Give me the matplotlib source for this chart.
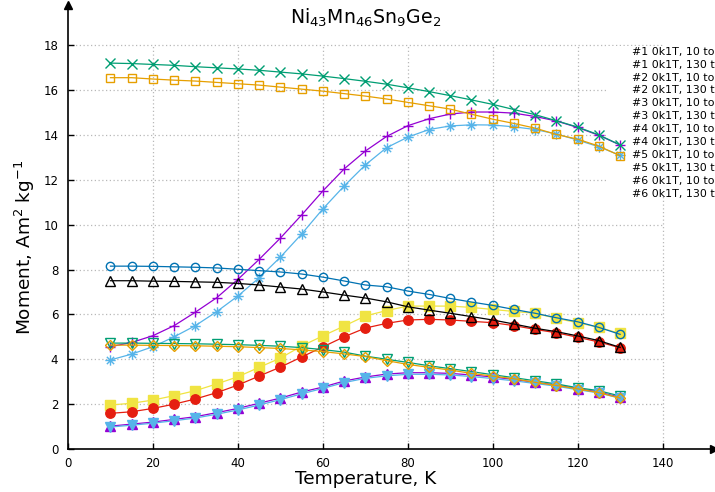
import numpy as np
import matplotlib
matplotlib.use("Agg")
import matplotlib.pyplot as plt
from matplotlib.path import Path
from matplotlib.patches import Rectangle

plt.rcParams["font.family"] = "DejaVu Sans"
plt.rcParams["mathtext.default"] = "regular"

# temperature sweep, K
temp = [10, 15, 20, 25, 30, 35, 40, 45, 50, 55, 60, 65, 70,
        75, 80, 85, 90, 95, 100, 105, 110, 115, 120, 125, 130]

# magnetic moment, Am^2 kg^-1 (warming "10 to 130" / cooling "130 to 10")
s1_up = [4.56, 4.75, 5.05, 5.50, 6.10, 6.74, 7.56, 8.45, 9.40, 10.43, 11.50, 12.48, 13.28,
         13.93, 14.41, 14.72, 14.93, 15.02, 15.02, 14.97, 14.82, 14.62, 14.33, 13.98, 13.55]
s1_dn = [17.20, 17.18, 17.14, 17.10, 17.04, 16.99, 16.94, 16.88, 16.80, 16.72, 16.62, 16.51, 16.39,
         16.26, 16.10, 15.93, 15.75, 15.56, 15.36, 15.13, 14.90, 14.63, 14.35, 14.00, 13.55]
s2_up = [3.97, 4.23, 4.56, 5.00, 5.50, 6.12, 6.82, 7.63, 8.55, 9.58, 10.70, 11.72, 12.66,
         13.43, 13.90, 14.24, 14.40, 14.45, 14.44, 14.36, 14.24, 14.04, 13.77, 13.47, 13.09]
s2_dn = [16.55, 16.55, 16.49, 16.44, 16.40, 16.34, 16.28, 16.22, 16.13, 16.04, 15.95, 15.84, 15.73,
         15.60, 15.45, 15.30, 15.15, 14.92, 14.70, 14.51, 14.30, 14.02, 13.81, 13.50, 13.07]
s3_up = [1.96, 2.04, 2.18, 2.38, 2.60, 2.90, 3.22, 3.64, 4.05, 4.59, 5.04, 5.48, 5.93,
         6.17, 6.37, 6.37, 6.37, 6.31, 6.22, 6.13, 6.05, 5.82, 5.63, 5.42, 5.15]
s3_dn = [8.15, 8.15, 8.14, 8.12, 8.10, 8.07, 8.01, 7.95, 7.89, 7.80, 7.66, 7.49, 7.31,
         7.23, 7.04, 6.89, 6.71, 6.55, 6.40, 6.22, 6.05, 5.85, 5.67, 5.42, 5.11]
s4_up = [1.59, 1.66, 1.81, 2.00, 2.23, 2.51, 2.85, 3.25, 3.65, 4.10, 4.55, 5.00, 5.39,
         5.60, 5.75, 5.78, 5.75, 5.69, 5.63, 5.50, 5.33, 5.18, 4.98, 4.77, 4.51]
s4_dn = [7.50, 7.50, 7.48, 7.47, 7.45, 7.43, 7.38, 7.31, 7.22, 7.13, 7.00, 6.86, 6.73,
         6.56, 6.34, 6.19, 6.05, 5.90, 5.75, 5.57, 5.38, 5.23, 5.04, 4.83, 4.53]
s5_up = [1.02, 1.11, 1.20, 1.32, 1.44, 1.62, 1.81, 2.04, 2.27, 2.54, 2.76, 3.03, 3.21,
         3.34, 3.40, 3.40, 3.37, 3.30, 3.21, 3.10, 2.97, 2.85, 2.69, 2.54, 2.30]
s5_dn = [4.72, 4.72, 4.71, 4.70, 4.69, 4.67, 4.65, 4.62, 4.58, 4.52, 4.43, 4.32, 4.14,
         4.00, 3.86, 3.71, 3.58, 3.45, 3.31, 3.18, 3.04, 2.90, 2.73, 2.60, 2.36]
s6_up = [0.98, 1.06, 1.15, 1.26, 1.38, 1.55, 1.74, 1.96, 2.20, 2.46, 2.70, 2.96, 3.15,
         3.26, 3.33, 3.33, 3.30, 3.23, 3.14, 3.04, 2.92, 2.80, 2.64, 2.50, 2.26]
s6_dn = [4.63, 4.63, 4.62, 4.61, 4.60, 4.58, 4.56, 4.52, 4.48, 4.42, 4.34, 4.24, 4.12,
         3.94, 3.77, 3.64, 3.52, 3.37, 3.25, 3.13, 2.97, 2.83, 2.68, 2.51, 2.27]

# key entries as far as they fit on the canvas
labels = ["#1 0k1T, 10 to", "#1 0k1T, 130 t",
          "#2 0k1T, 10 to", "#2 0k1T, 130 t",
          "#3 0k1T, 10 to", "#3 0k1T, 130 t",
          "#4 0k1T, 10 to", "#4 0k1T, 130 t",
          "#5 0k1T, 10 to", "#5 0k1T, 130 t",
          "#6 0k1T, 10 to", "#6 0k1T, 130 t"]
series = [s1_up, s1_dn, s2_up, s2_dn, s3_up, s3_dn,
          s4_up, s4_dn, s5_up, s5_dn, s6_up, s6_dn]

# gnuplot-like line types: colour, marker, filled?, marker size
asterisk = Path([(-1, 0), (1, 0), (0, -1), (0, 1),
                 (-0.7, -0.7), (0.7, 0.7), (-0.7, 0.7), (0.7, -0.7)],
                [Path.MOVETO, Path.LINETO] * 4)
styles = [
    ("#9400d3", "+", False, 7.5),
    ("#009e73", "x", False, 6.5),
    ("#56b4e9", asterisk, False, 7.5),
    ("#e69f00", "s", False, 6.3),
    ("#f0e442", "s", True, 6.5),
    ("#0072b2", "o", False, 6.0),
    ("#e51e10", "o", True, 6.8),
    ("#000000", "^", False, 6.5),
    ("#9400d3", "^", True, 6.5),
    ("#009e73", "v", False, 6.5),
    ("#56b4e9", "v", True, 6.5),
    ("#e69f00", "D", False, 5.0),
]

W, H = 715, 492
fig = plt.figure(figsize=(W / 100, H / 100), dpi=100)
ax = fig.add_axes([68 / W, 43 / H, 646 / W, 444 / H])

XMAX, YMAX = 152.1, 19.79
ax.set_xlim(0, XMAX)
ax.set_ylim(0, YMAX)

xticks = np.arange(0, 141, 20)
yticks = np.arange(0, 19, 2)
ax.set_xticks(xticks)
ax.set_yticks(yticks)

# grid only over the 0..140 x 0..18 plot area
grid_kw = dict(color="#b8b8b8", lw=0.9, linestyle=(0, (1, 2)), zorder=0.5)
ax.hlines(yticks[1:], 0, xticks[-1], **grid_kw)
ax.vlines(xticks[1:], 0, yticks[-1], **grid_kw)

# key background hides the grid behind it
ax.add_patch(Rectangle((607 / W, 1 - 197 / H), 108 / W, 151 / H,
                       transform=fig.transFigure, facecolor="white",
                       edgecolor="none", zorder=1, clip_on=False))

for y, (c, m, filled, ms) in zip(series, styles):
    ax.plot(temp, y, color=c, lw=0.9, marker=m, ms=ms, mew=1.0,
            markerfacecolor=c if filled else "none", markeredgecolor=c,
            zorder=2)

# key text (its samples sit past the right edge of the canvas)
for i, lab in enumerate(labels):
    fig.text(632 / W, 1 - (51.7 + 12.9 * i) / H, lab, fontsize=7.9,
             ha="left", va="center")

for side in ("top", "right"):
    ax.spines[side].set_visible(False)
for side in ("left", "bottom"):
    ax.spines[side].set_linewidth(1.2)
ax.plot(1, 0, ">k", ms=6, transform=ax.transAxes, clip_on=False)
ax.plot(0, 1, "^k", ms=6, transform=ax.transAxes, clip_on=False)

ax.tick_params(direction="in", length=4, width=1, labelsize=8.5)
ax.tick_params(axis="y", pad=7)
ax.tick_params(axis="x", pad=6)

ax.set_xlabel("Temperature, K", fontsize=13.3)
ax.set_ylabel("Moment, Am$^2$ kg$^{-1}$", fontsize=13.3)
ax.xaxis.set_label_coords(70 / XMAX, -0.047)
ax.yaxis.set_label_coords(-0.048, 9 / YMAX)

ax.text(70, 19.22, "Ni$_{43}$Mn$_{46}$Sn$_9$Ge$_2$", fontsize=13.6,
        ha="center", va="center")

fig.savefig("out.png", dpi=100)
